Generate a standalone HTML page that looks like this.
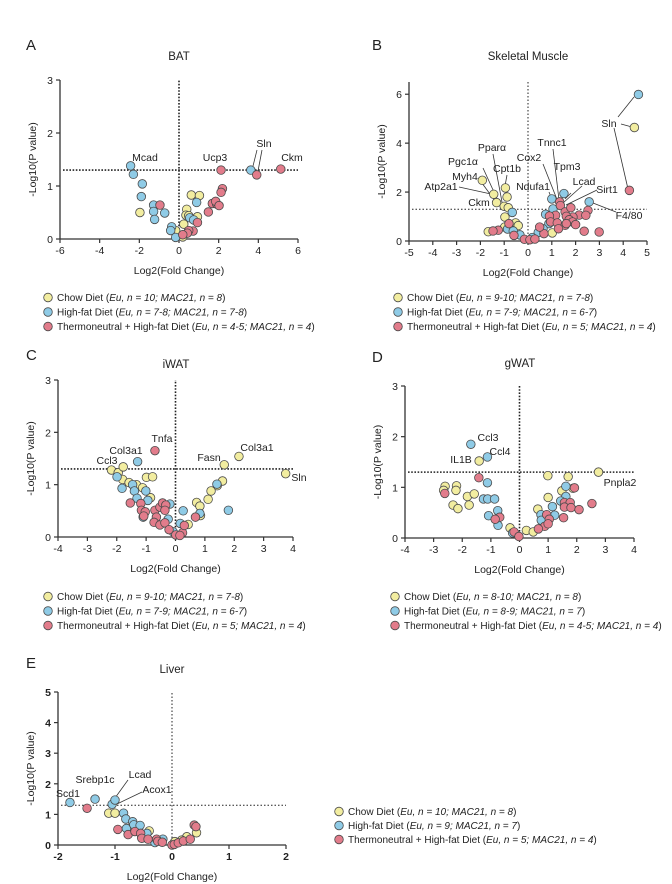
<!DOCTYPE html>
<html><head><meta charset="utf-8"><style>
html,body{margin:0;padding:0;background:#fff}
svg{display:block;font-family:"Liberation Sans",Arial,sans-serif}
</style></head><body>
<svg id="fig" width="672" height="884" viewBox="0 0 672 884">
</svg>
<script>
// ---------- Data (log2 fold change, -log10 p) ----------
const aChowX=[-1.97,0.62,1.03,0.39,0.35,0.49,0.93,0.24,-0.17,0.49,0.19];
const aChowY=[0.5,0.83,0.82,0.56,0.45,0.44,0.42,0.28,0.16,0.14,0.04];
const aHfdX=[-2.44,-2.3,-1.85,-1.9,-1.28,-1.28,-1.23,-0.72,0.89,0.54,0.74,-0.37,-0.42,-0.17,3.62];
const aHfdY=[1.38,1.22,1.04,0.8,0.64,0.52,0.37,0.49,0.69,0.4,0.36,0.23,0.16,0.03,1.3];
const aTnX=[-0.96,2.12,2.19,2.12,1.68,1.9,1.85,2.02,1.48,0.93,0.71,0.49,0.42,0.19,3.92,5.13];
const aTnY=[0.64,1.3,0.95,0.88,0.67,0.66,0.71,0.63,0.51,0.31,0.15,0.16,0.11,0.08,1.21,1.32];

const bChowX=[-1.92,-1.44,-1.32,-0.95,-0.88,-1.0,-0.83,-0.97,-0.52,-0.41,-1.67,4.47,1.02,-0.98];
const bChowY=[2.48,1.91,1.57,2.17,1.8,1.42,1.36,0.98,0.74,0.63,0.38,4.64,0.33,0.57];
const bHfdX=[4.64,1.51,1.0,2.57,1.05,-0.66,0.74,-0.86,-0.62,-0.34,0.43,0.88,0.63,0.18];
const bHfdY=[5.99,1.94,1.72,1.6,1.31,1.17,1.09,0.49,0.41,0.25,0.35,0.71,0.5,0.14];
const bTnX=[4.26,1.33,1.36,1.56,1.8,2.15,2.52,2.43,1.89,1.61,1.16,0.9,0.95,1.73,1.87,1.23,1.56,1.28,1.61,2.0,0.67,0.49,2.36,2.99,-1.25,-1.47,-0.8,-0.59,-0.15,0.08,0.29];
const bTnY=[2.07,1.6,1.45,1.19,1.36,1.06,1.25,1.05,0.98,1.01,1.05,1.02,0.78,0.87,0.78,0.74,0.64,0.5,0.71,0.67,0.3,0.57,0.4,0.37,0.44,0.41,0.71,0.23,0.07,0.05,0.08];

const cChowX=[-2.18,-1.95,-1.78,-1.8,-1.58,-1.33,-1.12,-0.85,-0.99,-0.78,1.66,2.16,3.75,1.6,1.42,1.21,1.11,0.72,0.83,0.85,0.43];
const cChowY=[1.28,1.23,1.34,1.1,1.04,1.0,0.94,0.75,1.14,1.15,1.38,1.54,1.21,1.07,0.98,0.88,0.72,0.66,0.59,0.41,0.24];
const cHfdX=[-1.29,-1.99,-1.82,-1.46,-1.4,-1.31,-1.01,-0.94,1.41,1.8,0.83,0.26,-0.19,-0.25,0.16,-1.1,-0.08];
const cHfdY=[1.44,1.15,0.93,1.0,0.88,0.74,0.88,0.7,1.01,0.51,0.45,0.5,0.63,0.34,0.26,0.38,0.1];
const cTnX=[-0.7,-1.54,-1.18,-1.16,-1.03,-1.08,-0.7,-0.53,-0.44,-0.33,-0.36,-0.65,-0.73,-0.53,-0.36,-0.22,0.01,0.24,0.3,0.68,0.15];
const cTnY=[1.65,0.65,0.64,0.51,0.48,0.4,0.51,0.57,0.65,0.61,0.51,0.38,0.28,0.23,0.27,0.14,0.04,0.08,0.22,0.38,0.03];

const dChowX=[-2.6,-2.65,-2.2,-2.22,-1.82,-1.58,-1.76,-2.32,-2.15,-1.41,0.99,1.7,2.76,1.0,1.48,1.87,0.64,-0.33,0.24,0.48];
const dChowY=[1.02,0.94,1.03,0.94,0.82,0.87,0.65,0.65,0.58,1.52,1.23,1.21,1.3,0.8,0.93,0.98,0.57,0.2,0.15,0.12];
const dHfdX=[-1.7,-1.12,-1.12,-1.26,-1.11,-0.87,-1.08,-0.76,-0.75,1.62,1.62,1.44,1.15,0.75,0.76,1.23,-0.24];
const dHfdY=[1.85,1.6,1.09,0.77,0.77,0.77,0.44,0.54,0.25,1.02,0.82,0.73,0.62,0.46,0.35,0.45,0.1];
const dTnX=[-2.61,-1.42,-0.69,-0.85,1.92,1.57,1.77,1.57,1.8,2.08,2.53,1.54,0.95,1.04,0.88,1.0,0.66,-0.19,-0.02];
const dTnY=[0.88,1.19,0.41,0.37,0.99,0.7,0.7,0.61,0.6,0.56,0.68,0.4,0.46,0.37,0.23,0.28,0.18,0.12,0.03];

const eChowX=[-1.11,-1.0,-0.4,0.43,0.26,0.17,0.05,-0.59,-0.27];
const eChowY=[1.04,1.04,0.46,0.4,0.27,0.16,0.11,0.49,0.16];
const eHfdX=[-1.79,-1.35,-1.05,-1.0,-0.85,-0.81,-0.8,-0.69,-0.67,-0.56,-0.53,-0.3,-0.16,-0.44];
const eHfdY=[1.39,1.5,1.33,1.47,1.04,0.85,0.54,0.76,0.66,0.64,0.24,0.08,0.19,0.38];
const eTnX=[-1.49,-0.95,-0.77,-0.65,-0.55,-0.53,-0.42,-0.27,-0.25,-0.17,0,0.04,0.11,0.2,0.32,0.39,0.42];
const eTnY=[1.2,0.51,0.34,0.44,0.38,0.22,0.19,0.19,0.12,0.09,0.0,0.02,0.07,0.13,0.19,0.65,0.6];

const ticksA_X=[-6,-4,-2,0,2,4,6], ticksA_Y=[0,1,2,3];
const ticksB_X=[-5,-4,-3,-2,-1,0,1,2,3,4,5], ticksB_Y=[0,2,4,6];
const ticksC_X=[-4,-3,-2,-1,0,1,2,3,4], ticksC_Y=[0,1,2,3];
const ticksE_X=[-2,-1,0,1,2], ticksE_Y=[0,1,2,3,4,5];
const threshold=1.3;

// ---------- Drawing ----------
const NS="http://www.w3.org/2000/svg";
const svg=document.getElementById('fig');
const COL={chow:'#f2eda0',hfd:'#8fcbe6',tn:'#e27c8b'};
function mk(tag,attrs,parent){const e=document.createElementNS(NS,tag);for(const k in attrs)e.setAttribute(k,attrs[k]);(parent||svg).appendChild(e);return e;}
function txt(x,y,s,attrs,parent){const t=mk('text',Object.assign({x:x,y:y,'font-size':10.5,fill:'#222'},attrs||{}),parent);t.textContent=s;return t;}

function panel(p){
  const g=mk('g',{});
  
  
  const sx=v=>p.px0+(v-p.xmin)/(p.xmax-p.xmin)*(p.px1-p.px0);
  const sy=v=>p.py0-(v/p.ymax)*(p.py0-p.pyTop);
  const bold=p.bold?'bold':'normal';
  // letter + title
  const L=txt(p.letterX,p.letterY,p.letter,{'font-size':15},g);
  
  
  const T=txt(p.titleX,p.titleY,p.title,{'font-size':11.5,'text-anchor':'middle'},g);
  
  
  // reference lines
  const th=mk('line',{x1:sx(p.xmin)+3,x2:sx(p.xmax),y1:sy(threshold),y2:sy(threshold),stroke:'#222','stroke-width':p.thin?1:1.6,'stroke-dasharray':p.thin?'1.5,2':'1.6,1.6'},g);
  
  
  const vz=mk('line',{x1:sx(0),x2:sx(0),y1:sy(0),y2:p.vTop,stroke:'#222','stroke-width':p.thin?1:1.6,'stroke-dasharray':p.thin?'1.5,2':'1.6,1.6'},g);
  
  
  // axes
  const xa=mk('line',{x1:p.px0,x2:p.px1,y1:p.py0,y2:p.py0,stroke:'#333','stroke-width':1.3},g);
  
  
  const ya=mk('line',{x1:p.px0,x2:p.px0,y1:p.py0,y2:p.pyTop,stroke:'#333','stroke-width':1.3},g);
  
  
  p.xt.forEach(v=>{
    mk('line',{x1:sx(v),x2:sx(v),y1:p.py0,y2:p.py0+4,stroke:'#333','stroke-width':1.2},g);
    const t=txt(sx(v),p.py0+15,String(v).replace('-','-'),{'text-anchor':'middle','font-weight':bold},g);
    
    
  });
  p.yt.forEach(v=>{
    mk('line',{x1:p.px0-4,x2:p.px0,y1:sy(v),y2:sy(v),stroke:'#333','stroke-width':1.2},g);
    const t=txt(p.px0-7,sy(v)+4,String(v),{'text-anchor':'end','font-weight':bold},g);
    
    
  });
  const xt=txt((p.px0+p.px1)/2,p.py0+35,'Log2(Fold Change)',{'text-anchor':'middle','font-size':10.5},g);
  
  
  const yc=(p.py0+p.pyTop)/2;
  const yt=txt(p.px0-24,yc,'-Log10(P value)',{'text-anchor':'middle','font-size':10.5,transform:'rotate(-90 '+(p.px0-24)+' '+yc+')'},g);
  
  
  // leader lines
  (p.lines||[]).forEach(l=>{
    const ln=mk('line',{x1:l[0],y1:l[1],x2:l[2],y2:l[3],stroke:'#333','stroke-width':0.8},g);
    
    
  });
  // points
  p.series.forEach(s=>{
    s.x.forEach((xv,i)=>{
      const c=mk('circle',{cx:sx(xv),cy:sy(s.y[i]),r:4.3,fill:COL[s.k],stroke:'#4a4a4a','stroke-width':0.8},g);
      
      
    });
  });
  // gene labels
  (p.labels||[]).forEach(l=>{
    const t=txt(l[1],l[2],l[0],{'font-size':10.5,'text-anchor':l[3]||'middle'},g);
    
    
  });
  // legend
  const names=['Chow Diet','High-fat Diet','Thermoneutral + High-fat Diet'];
  const keys=['chow','hfd','tn'];
  p.legend.forEach((s,i)=>{
    const y=p.legY+i*p.legDy;
    const c=mk('circle',{cx:p.legX,cy:y-3.5,r:4.3,fill:COL[keys[i]],stroke:'#4a4a4a','stroke-width':0.8},g);
    
    
    const t=mk('text',{x:p.legX+9,y:y,'font-size':10,fill:'#222'},g);
    
    
    const a=document.createElementNS(NS,'tspan');a.textContent=names[i]+' (';t.appendChild(a);
    const b=document.createElementNS(NS,'tspan');b.setAttribute('font-style','italic');b.textContent=s;t.appendChild(b);
    const c2=document.createElementNS(NS,'tspan');c2.textContent=')';t.appendChild(c2);
  });
}

panel({id:'bat',letter:'A',letterX:26,letterY:50,title:'BAT',titleX:179,titleY:60,
 xmin:-6,xmax:6,ymax:3,px0:60,px1:298,py0:239,pyTop:80,vTop:80,xt:ticksA_X,yt:ticksA_Y,
 series:[{k:'chow',x:aChowX,y:aChowY},{k:'hfd',x:aHfdX,y:aHfdY},{k:'tn',x:aTnX,y:aTnY}],
 labels:[['Mcad',145,161],['Ucp3',215,161],['Sln',264,147],['Ckm',292,161]],
 lines:[[257,150,253,166],[262,150,258,171]],
 legX:48,legY:301,legDy:14.5,
 legend:['Eu, n = 10; MAC21, n = 8','Eu, n = 7-8; MAC21, n = 7-8','Eu, n = 4-5; MAC21, n = 4']});

panel({id:'skeletal-muscle',letter:'B',letterX:372,letterY:50,title:'Skeletal Muscle',titleX:528,titleY:60,
 xmin:-5,xmax:5,ymax:6.5,px0:409,px1:647,py0:241,pyTop:82,vTop:82,thin:true,xt:ticksB_X,yt:ticksB_Y,
 series:[{k:'chow',x:bChowX,y:bChowY},{k:'hfd',x:bHfdX,y:bHfdY},{k:'tn',x:bTnX,y:bTnY}],
 labels:[['Sln',609,127],['Tnnc1',552,146],['Ppar\u03b1',492,151],['Cox2',529,161],['Pgc1\u03b1',463,165],['Cpt1b',507,172],['Tpm3',567,170],['Myh4',465,180],['Lcad',584,185],['Ndufa1',533,190],['Sirt1',607,193],['Atp2a1',441,190],['Ckm',479,206],['F4/80',629,219]],
 lines:[[618,117,634,97],[621,124,632,127],[614,128,628,189],[493,154,502,202],[483,168,499,203],[479,179,498,205],[459,187,491,194],[507,175,505,186],[553,149,559,200],[543,164,558,202],[549,192,551,197],[571,193,565,199],[582,186,563,203],[597,190,566,205],[616,212,593,203]],
 legX:398,legY:301,legDy:14.5,
 legend:['Eu, n = 9-10; MAC21, n = 7-8','Eu, n = 7-9; MAC21, n = 6-7','Eu, n = 5; MAC21, n = 4']});

panel({id:'iwat',letter:'C',letterX:26,letterY:360,title:'iWAT',titleX:176,titleY:368,
 xmin:-4,xmax:4,ymax:3,px0:58,px1:293,py0:537,pyTop:380,vTop:380,xt:ticksC_X,yt:ticksC_Y,
 series:[{k:'chow',x:cChowX,y:cChowY},{k:'hfd',x:cHfdX,y:cHfdY},{k:'tn',x:cTnX,y:cTnY}],
 labels:[['Tnfa',162,442],['Col3a1',126,454],['Ccl3',107,464],['Fasn',209,461],['Col3a1',257,451],['Sln',299,481]],
 legX:48,legY:600,legDy:14.5,
 legend:['Eu, n = 9-10; MAC21, n = 7-8','Eu, n = 7-9; MAC21, n = 6-7','Eu, n = 5; MAC21, n = 4']});

panel({id:'gwat',letter:'D',letterX:372,letterY:362,title:'gWAT',titleX:520,titleY:367,
 xmin:-4,xmax:4,ymax:3,px0:405,px1:634,py0:538,pyTop:386,vTop:386,xt:ticksC_X,yt:ticksC_Y,
 series:[{k:'chow',x:dChowX,y:dChowY},{k:'hfd',x:dHfdX,y:dHfdY},{k:'tn',x:dTnX,y:dTnY}],
 labels:[['Ccl3',488,441],['Ccl4',500,455],['IL1B',461,463],['Pnpla2',620,486]],
 legX:395,legY:600,legDy:14.5,
 legend:['Eu, n = 8-10; MAC21, n = 8','Eu, n = 8-9; MAC21, n = 7','Eu, n = 4-5; MAC21, n = 4']});

panel({id:'liver',letter:'E',letterX:26,letterY:668,title:'Liver',titleX:172,titleY:673,bold:true,
 xmin:-2,xmax:2,ymax:5,px0:58,px1:286,py0:845,pyTop:692,vTop:692,thin:true,xt:ticksE_X,yt:ticksE_Y,
 series:[{k:'chow',x:eChowX,y:eChowY},{k:'hfd',x:eHfdX,y:eHfdY},{k:'tn',x:eTnX,y:eTnY}],
 labels:[['Scd1',68,797],['Srebp1c',95,783],['Lcad',140,778],['Acox1',157,793]],
 lines:[[128,780,115,798],[142,792,117,804]],
 legX:339,legY:815,legDy:14,
 legend:['Eu, n = 10; MAC21, n = 8','Eu, n = 9; MAC21, n = 7','Eu, n = 5; MAC21, n = 4']});
</script>
</body></html>
